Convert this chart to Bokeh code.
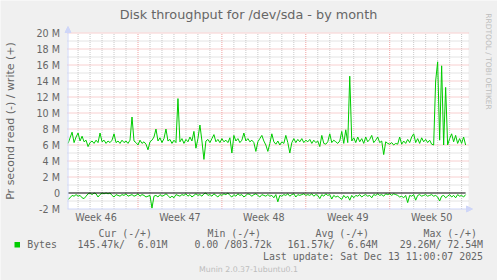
import numpy as np
from datetime import datetime, timedelta
from bokeh.plotting import figure
from bokeh.models import Range1d, Arrow, NormalHead
from bokeh.core.properties import value
from bokeh.embed import file_html
from bokeh.resources import INLINE

# ---------------- data ----------------
title_text = "Disk throughput for /dev/sda - by month"
y_label_text = "Pr second read (-) / write (+)"
side_text = "RRDTOOL / TOBI OETIKER"
footer_text = "Munin 2.0.37-1ubuntu0.1"
last_update_text = "Last update: Sat Dec 13 11:00:07 2025"

week_labels = ["Week 46", "Week 47", "Week 48", "Week 49", "Week 50"]
week_starts = [datetime(2025, 11, 9), datetime(2025, 11, 16), datetime(2025, 11, 23),
               datetime(2025, 11, 30), datetime(2025, 12, 7)]   # Sundays
first_sample = datetime(2025, 11, 10, 4, 0)
sample_step_hours = 4

# write (+), MB/s
write_M = [
    6.2, 6.9, 7.6, 6.3, 7.0, 7.5, 6.5, 7.1, 6.4, 6.6, 5.8, 6.3, 6.5, 6.2, 6.6, 6.3, 7.5, 6.4, 6.6, 6.2,
    6.5, 6.3, 6.6, 7.4, 6.3, 6.5, 6.2, 6.6, 6.3, 6.5, 6.2, 6.6, 9.5, 6.5, 6.3, 6.0, 6.6, 6.2, 6.4, 6.1,
    5.4, 6.4, 6.6, 7.0, 8.0, 6.5, 6.9, 6.3, 6.8, 8.0, 6.5, 6.7, 6.2, 6.6, 6.3, 11.8, 6.4, 6.8, 6.2, 6.7,
    6.4, 7.0, 6.5, 7.7, 5.6, 6.8, 8.5, 6.5, 4.2, 6.5, 6.7, 6.3, 6.8, 7.3, 6.4, 6.7, 6.3, 6.8, 6.4, 6.6,
    6.3, 6.9, 5.0, 7.2, 6.5, 6.8, 6.3, 6.6, 7.5, 6.5, 6.8, 6.4, 6.6, 6.3, 5.2, 6.4, 6.8, 7.2, 6.5, 6.0,
    5.2, 6.2, 7.4, 6.4, 6.1, 6.5, 6.0, 6.4, 6.2, 7.2, 6.3, 5.0, 6.3, 6.8, 6.3, 6.7, 6.4, 6.8, 6.3, 6.6,
    6.4, 6.7, 6.2, 6.6, 6.3, 6.5, 5.8, 7.2, 6.2, 6.1, 6.4, 7.4, 6.3, 6.6, 6.4, 6.2, 6.5, 7.7, 6.2, 7.9,
    6.3, 14.6, 6.5, 6.9, 6.3, 7.0, 6.4, 6.8, 6.2, 7.0, 6.4, 6.7, 7.2, 6.3, 6.6, 7.0, 6.3, 6.5, 4.8, 6.4,
    6.2, 6.1, 6.3, 6.0, 6.2, 6.1, 7.0, 6.1, 6.5, 6.2, 6.7, 6.3, 7.0, 7.4, 6.3, 6.8, 6.2, 6.9, 6.4, 6.7,
    6.3, 6.6, 6.1, 6.0, 14.0, 16.4, 6.6, 15.9, 6.0, 13.2, 6.0, 6.8, 7.4, 6.4, 7.2, 6.2, 6.8, 6.2, 7.0, 6.0,
]

# read (-), MB/s (drawn below zero)
read_M = [
    0.8, 0.6, 0.3, 0.4, 0.2, 0.4, 0.3, 0.6, 0.7, 0.4, 0.1, 0.0, 0.2, 0.0, 0.1, 0.5, 0.2, 0.0, 0.1, 0.0,
    0.1, 0.0, 0.3, 0.5, 0.2, 0.3, 0.4, 0.2, 0.3, 0.1, 0.4, 0.3, 0.2, 0.4, 0.3, 0.1, 0.4, 0.2, 0.3, 0.5,
    0.4, 0.3, 1.9, 0.4, 0.3, 0.5, 0.2, 0.4, 0.3, 0.1, 0.3, 0.6, 0.4, 0.6, 0.2, 0.3, 0.4, 0.2, 0.3, 0.1,
    0.4, 0.2, 0.5, 0.3, 0.1, 0.3, 0.2, 0.4, 0.1, 0.0, 0.3, 0.2, 0.4, 0.1, 0.3, 0.5, 0.2, 0.3, 0.1, 0.2,
    0.0, 0.3, 0.5, 0.2, 0.4, 0.1, 0.3, 0.2, 0.5, 0.3, 0.1, 0.2, 0.4, 0.2, 0.1, 0.3, 0.5, 0.2, 0.3, 0.4,
    0.2, 0.4, 0.3, 0.6, 0.2, 1.1, 0.3, 0.4, 0.2, 0.3, 0.1, 0.4, 0.2, 0.1, 0.5, 0.2, 0.3, 0.2, 0.1, 0.3,
    0.2, 0.3, 0.1, 0.4, 0.2, 0.3, 0.7, 0.2, 0.4, 0.1, 0.3, 0.2, 0.75, 0.3, 0.5, 0.4, 0.6, 0.8, 0.3, 0.6,
    0.4, 0.9, 0.3, 0.6, 0.3, 0.4, 0.2, 0.5, 0.3, 0.2, 0.4, 0.3, 0.6, 0.2, 0.3, 0.1, 0.3, 0.2, 0.4, 0.1,
    0.2, 0.1, 0.3, 0.1, 0.2, 0.3, 0.5, 0.4, 0.6, 0.3, 1.2, 0.3, 0.4, 0.2, 0.9, 0.3, 0.2, 0.4, 0.3, 0.2,
    0.4, 0.3, 0.2, 0.4, 0.3, 0.5, 1.0, 0.4, 0.3, 0.6, 0.4, 0.2, 0.5, 0.3, 0.6, 0.2, 0.4, 0.3, 0.5, 0.2,
]

y_ticks = [-2, 0, 2, 4, 6, 8, 10, 12, 14, 16, 18, 20]

legend_name = "Bytes"
legend_headers = ["Cur (-/+)", "Min (-/+)", "Avg (-/+)", "Max (-/+)"]
legend_cur = ("145.47k", "6.01M")
legend_min = ("0.00", "803.72k")
legend_avg = ("161.57k", "6.64M")
legend_max = ("29.26M", "72.54M")

# ---------------- styling / layout ----------------
GREEN = "#00CC00"
FONT_COL = "#666666"
AXIS_COL = "#CFD6F8"
GRID_COL = "#C8C8C8"
MGRID_COL = "#F0A0A0"
WM_COL = "#BDBDBD"

origin = week_starts[1]
PX_PER_DAY = 11.986
X0_PX = 137.5
PX_PER_M = 8.0
Y0_PX = 192.5
W, H = 497, 280


def dx(px):
    return (px - X0_PX) / PX_PER_DAY


def vy(py):
    return (Y0_PX - py) / PX_PER_M


def day_of(t):
    return (t - origin).total_seconds() / 86400.0


times = [first_sample + timedelta(hours=sample_step_hours * i) for i in range(len(write_M))]
days = np.array([day_of(t) for t in times])
write = np.array(write_M)
read_neg = -np.array(read_M)

p = figure(width=W, height=H, output_backend="svg", toolbar_location=None,
           x_range=Range1d(dx(0), dx(W)), y_range=Range1d(vy(H), vy(0)),
           x_axis_location=None, y_axis_location=None,
           min_border=0, min_border_left=0, min_border_right=0,
           min_border_top=0, min_border_bottom=0,
           background_fill_color="#F0F0F0", border_fill_color="#F0F0F0",
           outline_line_color=None)
p.xgrid.visible = False
p.ygrid.visible = False

# canvas
canvas_l, canvas_r = dx(67), dx(468)
canvas_t = vy(32)
p.quad(left=[canvas_l], right=[canvas_r], bottom=[y_ticks[0]], top=[canvas_t],
       fill_color="white", line_color=None)

# vertical grid (days), major at week starts
week_days = [day_of(w) for w in week_starts]
all_days = np.arange(np.ceil(canvas_l), np.floor(canvas_r) + 1)
minor_days = [d for d in all_days if d not in week_days]
major_days = [d for d in week_days if canvas_l < d < canvas_r]
p.segment(x0=minor_days, y0=[y_ticks[0]] * len(minor_days), x1=minor_days,
          y1=[y_ticks[-1]] * len(minor_days), line_color=GRID_COL, line_dash="1 1", line_width=1)
p.segment(x0=major_days, y0=[y_ticks[0]] * len(major_days), x1=major_days,
          y1=[y_ticks[-1]] * len(major_days), line_color=MGRID_COL, line_dash="1 1", line_width=1)

# horizontal grid
minor_vals = list(range(y_ticks[0] + 1, y_ticks[-1], 2))
major_vals = [v for v in y_ticks if v > 0]
p.segment(x0=[canvas_l] * len(minor_vals), y0=minor_vals, x1=[canvas_r] * len(minor_vals),
          y1=minor_vals, line_color=GRID_COL, line_dash="1 1", line_width=1)
p.segment(x0=[canvas_l] * len(major_vals), y0=major_vals, x1=[canvas_r] * len(major_vals),
          y1=major_vals, line_color=MGRID_COL, line_dash="1 1", line_width=1)

# data
p.line(days, write, line_color=GREEN, line_width=1)
p.line(days, read_neg, line_color=GREEN, line_width=1)
p.line([days[0], days[-1]], [0, 0], line_color="black", line_width=1)

# axes lines with arrows
p.add_layout(Arrow(end=NormalHead(size=6, fill_color=AXIS_COL, line_color=AXIS_COL, line_width=1),
                   x_start=canvas_l, y_start=y_ticks[0], x_end=dx(472), y_end=y_ticks[0],
                   line_color=AXIS_COL, line_width=1))
p.add_layout(Arrow(end=NormalHead(size=6, fill_color=AXIS_COL, line_color=AXIS_COL, line_width=1),
                   x_start=dx(67.5), y_start=y_ticks[0], x_end=dx(67.5), y_end=vy(26),
                   line_color=AXIS_COL, line_width=1))


def txt(xs, ys, texts, font="DejaVu Sans Mono", size="9.9px", align="left", color=FONT_COL, angle=0.0):
    p.text(x=list(xs), y=list(ys), text=list(texts), text_font=value(font),
           text_font_size=value(size), text_color=color, text_align=align,
           text_baseline="middle", angle=angle)


# tick labels
week_mid = [day_of(w) + 3.5 for w in week_starts]
txt(week_mid, [vy(217.3)] * len(week_mid), week_labels, font="DejaVu Sans", size="9.6px", align="center")
y_tick_labels = ["0" if v == 0 else f"{v} M" for v in y_ticks]
txt([dx(59.5)] * len(y_ticks), y_ticks, y_tick_labels, font="DejaVu Sans", size="9.6px", align="right")

# titles
txt([dx(248)], [vy(13.5)], [title_text], font="DejaVu Sans", size="12.8px", align="center")
txt([dx(10)], [vy(120.5)], [y_label_text], font="DejaVu Sans", size="11px", align="center", angle=np.pi / 2)
txt([dx(488)], [vy(61)], [side_text], font="DejaVu Sans", size="7.5px", align="center",
    color=WM_COL, angle=-np.pi / 2)

# legend
txt([dx(98), dx(207), dx(315), dx(423)], [vy(232.7)] * 4, legend_headers)
p.quad(left=[dx(14)], right=[dx(19.5)], top=[vy(241.5)], bottom=[vy(247)],
       fill_color=GREEN, line_color=None)
txt([dx(26.7), dx(77), dx(194), dx(287)], [vy(244.3)] * 4,
    [legend_name, f"{legend_cur[0]}/", f"{legend_min[0]} /{legend_min[1]}", f"{legend_avg[0]}/"])
txt([dx(167), dx(377), dx(482.5)], [vy(244.3)] * 3,
    [legend_cur[1], legend_avg[1], f"{legend_max[0]}/ {legend_max[1]}"], align="right")
txt([dx(482.5)], [vy(256)], [last_update_text], align="right")
txt([dx(248)], [vy(269.3)], [footer_text], font="DejaVu Sans", size="7.8px", align="center", color=WM_COL)

open("out.html", "w").write(file_html(p, INLINE))
